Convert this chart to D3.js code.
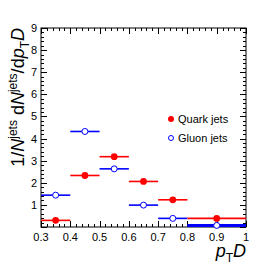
<!DOCTYPE html>
<html>
<meta charset="utf-8" />
<style>
  body { margin: 0; background: #fff; }
  text { font-family: "Liberation Sans", Arial, sans-serif; }
</style>
<svg width="274" height="268"></svg>
<script src="https://d3js.org/d3.v7.min.js"></script>
<script>
// bins in p_T D
var binLo = [0.3, 0.4, 0.5, 0.6, 0.7, 0.8];
var binHi = [0.4, 0.5, 0.6, 0.7, 0.8, 1.0];
var quark = [0.30, 2.33, 3.18, 2.06, 1.23, 0.39];
var gluon = [1.44, 4.32, 2.63, 0.99, 0.39, 0.07];
var xTicks = [0.3, 0.4, 0.5, 0.6, 0.7, 0.8, 0.9, 1];
var yTicks = [1, 2, 3, 4, 5, 6, 7, 8, 9];

var svg = d3.select("svg");
var x = d3.scaleLinear().domain([0.3, 1.0]).range([41, 246]);
var y = d3.scaleLinear().domain([0, 9]).range([227, 28]);

// frame
svg.append("rect")
  .attr("x", 41).attr("y", 28)
  .attr("width", 205).attr("height", 199)
  .attr("fill", "none").attr("stroke", "#000").attr("stroke-width", 1);

var gt = svg.append("g").attr("stroke", "#000").attr("stroke-width", 1);
// x ticks (bottom and top), major 0.1, minor 0.02
d3.range(0, 36).forEach(function(i) {
  var v = 0.3 + i * 0.02, major = i % 5 == 0, len = major ? 6 : 3;
  var px = Math.round(x(v)) + 0.5;
  gt.append("line").attr("x1", px).attr("x2", px).attr("y1", 227).attr("y2", 227 - len);
  gt.append("line").attr("x1", px).attr("x2", px).attr("y1", 28).attr("y2", 28 + len);
});
// y ticks (left and right), major 1, minor 0.2
d3.range(0, 46).forEach(function(i) {
  var v = i * 0.2, major = i % 5 == 0, len = major ? 6 : 3;
  var py = Math.round(y(v)) + 0.5;
  gt.append("line").attr("x1", 41).attr("x2", 41 + len).attr("y1", py).attr("y2", py);
  gt.append("line").attr("x1", 246).attr("x2", 246 - len).attr("y1", py).attr("y2", py);
});

svg.selectAll(".xl").data(xTicks).enter().append("text")
  .attr("x", function(d) { return x(d); }).attr("y", 241)
  .attr("text-anchor", "middle").attr("font-size", 11)
  .text(function(d) { return d; });
svg.selectAll(".yl").data(yTicks).enter().append("text")
  .attr("x", 37).attr("y", function(d) { return y(d) + 4; })
  .attr("text-anchor", "end").attr("font-size", 11)
  .text(function(d) { return d; });

// gluon
var g2 = svg.append("g");
binLo.forEach(function(lo, i) {
  g2.append("line")
    .attr("x1", x(lo)).attr("x2", x(binHi[i]))
    .attr("y1", y(gluon[i])).attr("y2", y(gluon[i]))
    .attr("stroke", "#0000ff").attr("stroke-width", i == 5 ? 3 : 1.6);
  g2.append("circle")
    .attr("cx", x((lo + binHi[i]) / 2)).attr("cy", y(gluon[i])).attr("r", 3)
    .attr("fill", "#fff").attr("stroke", "#0000ff").attr("stroke-width", 1);
});
// quark
var g1 = svg.append("g");
binLo.forEach(function(lo, i) {
  g1.append("line")
    .attr("x1", x(lo)).attr("x2", x(binHi[i]))
    .attr("y1", y(quark[i])).attr("y2", y(quark[i]))
    .attr("stroke", "#ff0000").attr("stroke-width", 1.6);
  g1.append("circle")
    .attr("cx", x((lo + binHi[i]) / 2)).attr("cy", y(quark[i])).attr("r", 3.4)
    .attr("fill", "#ff0000");
});

// legend
svg.append("circle").attr("cx", 171).attr("cy", 119).attr("r", 3).attr("fill", "#ff0000");
svg.append("text").attr("x", 178).attr("y", 123).attr("font-size", 11).text("Quark jets");
svg.append("circle").attr("cx", 171).attr("cy", 138).attr("r", 2.5)
  .attr("fill", "#fff").attr("stroke", "#0000ff").attr("stroke-width", 1);
svg.append("text").attr("x", 178).attr("y", 142).attr("font-size", 11).text("Gluon jets");

// axis titles
var xt = svg.append("text").attr("x", 246).attr("y", 257)
  .attr("text-anchor", "end").attr("font-size", 18);
xt.append("tspan").attr("font-style", "italic").text("p");
xt.append("tspan").attr("font-size", 12).attr("dy", 5).text("T");
xt.append("tspan").attr("font-style", "italic").attr("dy", -5).text("D");

var yt = svg.append("text").attr("transform", "translate(24,28) rotate(-90)")
  .attr("text-anchor", "end").attr("font-size", 18);
yt.append("tspan").text("1/");
yt.append("tspan").attr("font-style", "italic").text("N");
yt.append("tspan").attr("font-size", 12).attr("dy", -7).text("jets");
yt.append("tspan").attr("dy", 7).text(" d");
yt.append("tspan").attr("font-style", "italic").text("N");
yt.append("tspan").attr("font-size", 12).attr("dy", -7).text("jets");
yt.append("tspan").attr("dy", 7).text("/d");
yt.append("tspan").attr("font-style", "italic").text("p");
yt.append("tspan").attr("font-size", 12).attr("dy", 5).text("T");
yt.append("tspan").attr("font-style", "italic").attr("dy", -5).text("D");
</script>
</html>
